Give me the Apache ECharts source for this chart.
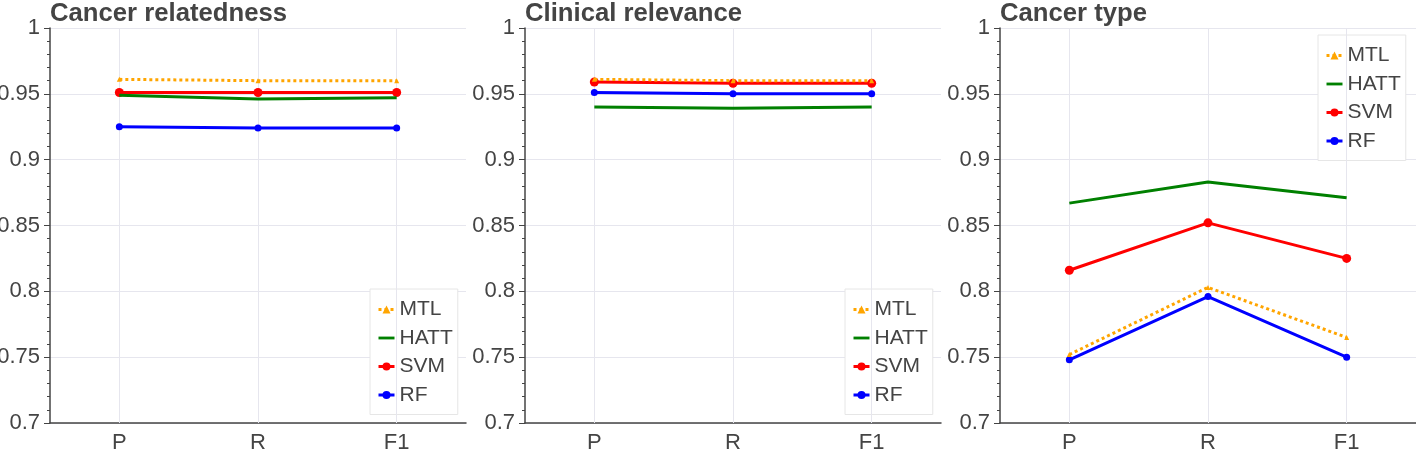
<!DOCTYPE html>
<html><head><meta charset="utf-8">
<script src="https://cdn.jsdelivr.net/npm/echarts@6/dist/echarts.min.js"></script>
<style>html,body{margin:0;padding:0;background:#fff}#c{width:1416px;height:454px}</style>
</head><body><div id="c"></div>
<script>
const categories = ['P', 'R', 'F1'];
const panelTitles = ['Cancer relatedness', 'Clinical relevance', 'Cancer type'];
const seriesNames = ['MTL', 'HATT', 'SVM', 'RF'];
const yTicks = [0.7, 0.75, 0.8, 0.85, 0.9, 0.95, 1];

const mtl1 = [0.961, 0.960, 0.960];
const hatt1 = [0.949, 0.946, 0.947];
const svm1 = [0.951, 0.951, 0.951];
const rf1 = [0.925, 0.924, 0.924];

const mtl2 = [0.961, 0.960, 0.960];
const hatt2 = [0.940, 0.939, 0.940];
const svm2 = [0.959, 0.958, 0.958];
const rf2 = [0.951, 0.950, 0.950];

const mtl3 = [0.752, 0.803, 0.765];
const hatt3 = [0.867, 0.883, 0.871];
const svm3 = [0.816, 0.852, 0.825];
const rf3 = [0.748, 0.796, 0.750];

const panels = [
  [mtl1, hatt1, svm1, rf1],
  [mtl2, hatt2, svm2, rf2],
  [mtl3, hatt3, svm3, rf3]
];

const grids = [
  {left: 50, width: 416, top: 28, height: 395, outerBoundsMode: 'none', containLabel: false},
  {left: 525, width: 416, top: 28, height: 395, outerBoundsMode: 'none', containLabel: false},
  {left: 1000, width: 416, top: 28, height: 395, outerBoundsMode: 'none', containLabel: false}
];

const styles = [
  {color: 'orange', type: 'dotted', symbol: 'triangle', symbolSize: 5, width: 3},
  {color: 'green', type: 'solid', symbol: 'none', symbolSize: 0, width: 3},
  {color: 'red', type: 'solid', symbol: 'circle', symbolSize: 9, width: 3},
  {color: 'blue', type: 'solid', symbol: 'circle', symbolSize: 7, width: 3}
];

const gridColor = '#e6e6ee';
const font = 'Liberation Sans, Arial, sans-serif';
const option = {
  animation: false,
  backgroundColor: '#fff',
  title: panelTitles.map((t, i) => ({
    text: t, left: grids[i].left - 5, top: -4,
    textStyle: {fontFamily: font, fontSize: 25.7, fontWeight: 'bold', color: '#444'}
  })),
  grid: grids,
  xAxis: grids.map((g, i) => ({
    type: 'category', gridIndex: i, data: categories, boundaryGap: true,
    axisLine: {lineStyle: {color: '#444', width: 1.5}},
    axisTick: {alignWithLabel: true, length: 6, lineStyle: {color: '#444'}},
    axisLabel: {fontFamily: font, fontSize: 22, color: '#444', margin: 9},
    splitLine: {show: false}
  })),
  yAxis: grids.map((g, i) => ({
    type: 'value', gridIndex: i, min: 0.7, max: 1, interval: 0.05,
    axisLine: {show: true, lineStyle: {color: '#444', width: 1.5}},
    axisTick: {show: true, length: 6, lineStyle: {color: '#444'}},
    minorTick: {show: true, splitNumber: 5, length: 3, lineStyle: {color: '#444'}},
    axisLabel: {fontFamily: font, fontSize: 22, color: '#444', margin: 10,
      formatter: v => String(parseFloat(v.toFixed(2)))},
    splitLine: {show: true, lineStyle: {color: gridColor, width: 1}}
  })),
  legend: [
    {left: 370, top: 289},
    {left: 845, top: 289},
    {left: 1318, top: 35}
  ].map(p => ({
    data: seriesNames.map(n => n === 'HATT'
      ? {name: n, icon: 'path://M0,0L17,0L17,3L0,3Z'}
      : {name: n}),
    orient: 'vertical', left: p.left, top: p.top,
    padding: [10, 5, 9, 7], itemGap: 7.5, itemWidth: 16, itemHeight: 10,
    lineStyle: {width: 3},
    borderColor: '#e6e6e6', borderWidth: 1, backgroundColor: '#fff',
    textStyle: {fontFamily: font, fontSize: 21, color: '#444', lineHeight: 21}
  })),
  series: []
};

panels.forEach((vals, pi) => {
  option.series.push({
    type: 'line', xAxisIndex: pi, yAxisIndex: pi, data: [], silent: true, z: 0,
    markLine: {
      silent: true, symbol: 'none', label: {show: false}, animation: false,
      lineStyle: {color: gridColor, width: 1, type: 'solid'},
      data: categories.map(c => ({xAxis: c}))
    }
  });
  vals.forEach((d, si) => {
    const s = styles[si];
    option.series.push({
      name: seriesNames[si], type: 'line', xAxisIndex: pi, yAxisIndex: pi,
      data: d, symbol: s.symbol, symbolSize: s.symbolSize, showSymbol: s.symbol !== 'none',
      z: 10 - si,
      itemStyle: {color: s.color},
      lineStyle: {color: s.color, width: s.width, type: s.type}
    });
  });
});

const chart = echarts.init(document.getElementById('c'), null, {renderer: 'canvas'});
chart.setOption(option);
</script></body></html>
